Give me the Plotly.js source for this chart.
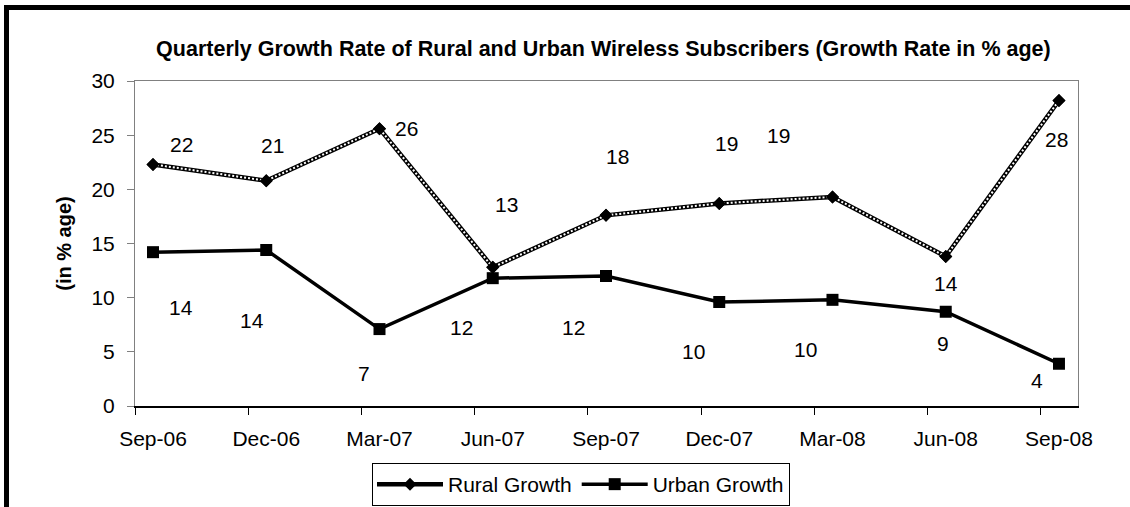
<!DOCTYPE html>
<html><head><meta charset="utf-8">
<script src="https://cdn.plot.ly/plotly-3.0.1.min.js"></script>
<style>
html,body{margin:0;padding:0;background:#fff;}
#wrap{position:relative;width:1130px;height:507px;overflow:hidden;}
#chart{position:absolute;left:0;top:0;width:1130px;height:507px;}
#frame{position:absolute;left:4px;top:5px;right:-10px;bottom:-10px;border-left:5px solid #000;border-top:5px solid #000;pointer-events:none;}
</style></head><body>
<div id="wrap"><div id="chart"></div><div id="frame"></div></div>
<script>
// ---- data ----
const categories = ['Sep-06','Dec-06','Mar-07','Jun-07','Sep-07','Dec-07','Mar-08','Jun-08','Sep-08'];
const ruralGrowth = [22.3, 20.8, 25.6, 12.8, 17.6, 18.7, 19.3, 13.8, 28.2];
const urbanGrowth = [14.2, 14.4, 7.1, 11.8, 12.0, 9.6, 9.8, 8.7, 3.9];
const yTickValues = [0, 5, 10, 15, 20, 25, 30];
const seriesNames = ['Rural Growth', 'Urban Growth'];

// ---- label placement (pixel offsets from each point, screen coords) ----
const ruralLabelOffset = [[28,-20],[6,-35],[27,0],[14,-63],[12,-59],[7,-60],[-54,-61],[0,27],[-2,39]];
const urbanLabelOffset = [[28,55],[-14,70],[-16,44],[-31,49],[-32,51],[-26,49],[-27,50],[-3,32],[-22,17]];

const FONT = 'Liberation Sans, Arial, Helvetica, sans-serif';
const FS = 21;
const idx = categories.map((c, i) => i);
const tickOffset = -0.159;
const xRange = [-0.159, 8.168];

const traces = [
  { x: idx, y: ruralGrowth, name: seriesNames[0], mode: 'lines+markers', legendgroup: 'r',
    line: { color: '#000', width: 4.5 }, marker: { symbol: 'diamond', size: 10, color: '#000' }, hoverinfo: 'skip' },
  { x: idx, y: ruralGrowth, mode: 'lines', showlegend: false, legendgroup: 'r',
    line: { color: '#fff', width: 2, dash: '2px,2px' }, hoverinfo: 'skip' },
  { x: idx, y: ruralGrowth, mode: 'markers', showlegend: false, legendgroup: 'r',
    marker: { symbol: 'diamond', size: 10, color: '#000' }, hoverinfo: 'skip' },
  { x: idx, y: urbanGrowth, name: seriesNames[1], mode: 'lines+markers',
    line: { color: '#000', width: 3.5 }, marker: { symbol: 'square', size: 12, color: '#000' }, hoverinfo: 'skip' },
  { x: [], y: [], xaxis: 'x2', showlegend: false, hoverinfo: 'skip' }
];

const annotations = [];
ruralGrowth.forEach((v, i) => annotations.push({
  x: i, y: v, xref: 'x', yref: 'y', text: String(Math.round(v)), showarrow: false,
  xshift: ruralLabelOffset[i][0], yshift: -ruralLabelOffset[i][1],
  font: { family: FONT, size: FS, color: '#000' }
}));
urbanGrowth.forEach((v, i) => annotations.push({
  x: i, y: v, xref: 'x', yref: 'y', text: String(Math.round(v)), showarrow: false,
  xshift: urbanLabelOffset[i][0], yshift: -urbanLabelOffset[i][1],
  font: { family: FONT, size: FS, color: '#000' }
}));

const layout = {
  width: 1130, height: 507,
  paper_bgcolor: '#fff', plot_bgcolor: '#fff',
  margin: { l: 135, r: 52, t: 81, b: 101, pad: 0 },
  font: { family: FONT, color: '#000', size: FS },
  title: {
    text: 'Quarterly Growth Rate of Rural and Urban Wireless Subscribers (Growth Rate in % age)',
    font: { family: FONT, size: 21.5, weight: 'bold', color: '#000' },
    x: 0.534, xref: 'container', xanchor: 'center',
    y: 1 - 48 / 507, yref: 'container', yanchor: 'middle'
  },
  xaxis: {
    type: 'linear', range: xRange, tickmode: 'array', tickvals: idx, ticktext: categories,
    ticks: '', showline: true, linecolor: '#808080', linewidth: 1, mirror: true,
    showgrid: false, zeroline: false, ticklabelstandoff: 14, automargin: false,
    tickfont: { family: FONT, size: FS, color: '#000' }, fixedrange: true
  },
  xaxis2: {
    type: 'linear', overlaying: 'x', anchor: 'y', side: 'bottom', range: xRange,
    tickmode: 'array', tickvals: idx.map(i => i + tickOffset),
    ticks: 'outside', ticklen: 7, tickcolor: '#000', tickwidth: 1, automargin: false,
    showline: true, linecolor: '#000', linewidth: 1.5, showticklabels: false,
    showgrid: false, zeroline: false, fixedrange: true
  },
  yaxis: {
    range: [0, 30], tickmode: 'array', tickvals: yTickValues,
    ticks: 'outside', ticklen: 7, tickcolor: '#808080', tickwidth: 1,
    showline: true, linecolor: '#808080', linewidth: 1, mirror: true,
    showgrid: false, zeroline: false, ticklabelstandoff: 8, automargin: false,
    tickfont: { family: FONT, size: FS, color: '#000' },
    title: { text: '(in % age)', standoff: 14, font: { family: FONT, size: 20, weight: 'bold', color: '#000' } },
    fixedrange: true
  },
  showlegend: true,
  legend: {
    orientation: 'h', xref: 'container', yref: 'container',
    x: 581 / 1130, xanchor: 'center', y: 1 - 463 / 507, yanchor: 'top',
    bordercolor: '#000', borderwidth: 1, bgcolor: '#fff',
    font: { family: FONT, size: FS, color: '#000' }, itemwidth: 66
  },
  annotations: annotations
};

Plotly.newPlot('chart', traces, layout, { staticPlot: true, displayModeBar: false });
</script>
</body></html>
